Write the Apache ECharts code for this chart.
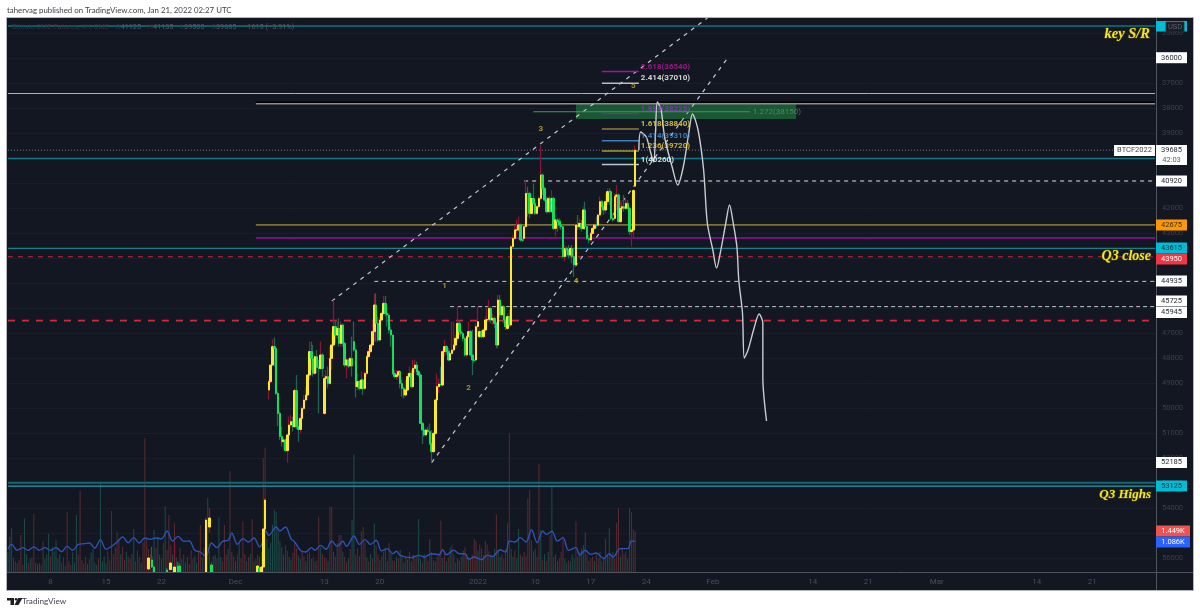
<!DOCTYPE html>
<html>
<head>
<meta charset="utf-8">
<title>BTCF2022 4H</title>
<script src="https://cdn.jsdelivr.net/npm/echarts@6/dist/echarts.min.js"></script>
<style>
  html, body { margin: 0; padding: 0; background: #fff; }
  #chart { width: 1200px; height: 613px; }
</style>
</head>
<body>
<div id="chart"></div>
<script>
// Time axis: one category per 4h session bar, labelled only where a date tick falls.
const slotCount = 621;
const tickSlots = [23, 53, 83, 123, 171, 201, 254, 285, 315, 345, 381, 435, 465, 502, 556, 586];
const tickLabels = ['8', '15', '22', 'Dec', '13', '20', '2022', '10', '17', '24', 'Feb', '14', '21', 'Mar', '14', '21'];
const priceTicks = [35000, 36000, 37000, 38000, 39000, 40000, 41000, 42000, 43000, 44000, 45000, 46000,
  47000, 48000, 49000, 50000, 51000, 52000, 53000, 54000, 55000, 56000];

// Early bars that reach the visible price range: [slot, open, close, low, high]
const earlyCandles = [
  [76, 56440, 56000, 55960, 56480], [78, 56080, 56360, 55560, 56400], [79, 56360, 56560, 56300, 56560],
  [86, 56480, 56560, 56400, 56560], [88, 56460, 56200, 56100, 56500], [90, 56560, 56360, 55320, 56560],
  [92, 56320, 56560, 56150, 56560], [93, 56320, 56560, 56200, 56560], [107, 56560, 54480, 54400, 56560],
  [109, 54760, 54400, 54000, 55000], [110, 56280, 56560, 56200, 56560], [135, 56560, 56320, 56280, 56560],
  [136, 56400, 56560, 56360, 56560], [137, 56560, 56360, 56300, 56560], [138, 56360, 54840, 54800, 56400],
  [139, 54840, 53680, 53600, 54880]
];

// Continuous run of bars up to the last session: [open, close, low, high]
const recentCandles = [
  [49280,48945,48880,49655],[48945,48280,48280,49015],[48280,47545,47255,48320],[47545,47615,47175,48345],
  [47615,49415,47545,49480],[49415,50215,49345,50720],[50215,51145,50145,51280],[51145,51345,50745,51545],
  [51345,51280,51145,51680],[51280,51705,51215,51745],[51705,51080,51015,52185],[51080,50680,50345,51415],
  [50680,50545,50280,50815],[50545,50745,50345,50945],[50745,49305,49215,50815],[49305,50745,48680,50855],
  [50745,50855,50480,51345],[50855,50415,50215,51015],[50415,50015,49945,50480],[50015,49680,49480,50080],
  [49680,49480,49145,49745],[49480,48680,48640,49680],[48680,47745,47345,48880],[47745,48015,47345,48480],
  [48015,48615,47480,48745],[48615,47945,47880,48680],[47945,48375,47680,48615],[48375,48415,48080,50215],
  [48415,47880,47345,48480],[47880,48415,47815,48745],[50215,48815,48680,50280],[48815,48745,48480,49280],
  [48745,49015,48345,49215],[49015,48015,47545,49080],[48015,47480,46945,48480],[47480,46745,45680,47545],
  [46745,47080,46480,47415],[47080,46815,46545,47215],[46815,47415,46415,47545],[47415,46680,46545,47545],
  [46680,47415,46615,47545],[47415,48280,47345,48375],[48280,48080,47975,48815],[48080,48320,48015,48415],
  [48320,48015,47945,48375],[48015,48320,47145,48745],[47345,47680,46545,47745],[47680,49145,47615,49575],
  [49145,48945,48615,49280],[48945,49215,48880,49305],[49215,48880,48545,49280],[48880,49215,48815,49480],
  [49215,48615,48545,49280],[48615,47945,47880,48745],[47945,47745,47615,48015],[47745,47480,47415,47815],
  [47480,46945,46480,47545],[46945,45880,45415,47345],[45880,46615,45415,47345],[46615,47280,46345,47345],
  [47280,46480,46345,47345],[46480,46215,46145,46545],[46215,45815,45520,46280],[45815,46215,45520,46345],
  [46215,46280,46145,46745],[46280,46880,46215,47015],[46880,47080,46745,47545],[47080,48615,47080,48680],
  [48615,48745,48480,48815],[48745,48680,48480,48880],[48680,48545,48480,48815],[48545,49015,48480,49215],
  [49015,49215,48880,49545],[49215,49480,49145,49615],[49480,49280,48880,49545],[49280,48745,48615,49345],
  [48745,48615,48345,48880],[48615,49145,48480,49215],[49145,48415,48080,49215],[48415,48280,48055,48615],
  [48280,48545,48145,48680],[48545,48680,48480,48745],[48680,50615,48615,50640],[50615,50880,50545,51440],
  [50880,51080,50745,51145],[51080,50880,50815,51145],[50880,50945,50745,51015],[50945,51415,50615,51480],
  [51415,51745,50880,52145],[51745,51015,50945,51815],[51015,49680,49615,51080],[49680,49145,48615,49745],
  [49145,49040,48815,49415],[49040,49080,48345,49145],[49080,47745,47680,49145],[47745,47545,47280,47945],
  [47545,47745,47480,47880],[47745,48080,47615,48105],[48080,47815,47680,48145],[47815,47680,46545,47880],
  [47680,47480,46545,47745],[47480,47215,47080,47615],[47215,46615,45920,47345],[46615,46945,46545,47080],
  [46945,47015,46745,47145],[47015,47215,46945,47345],[47215,47880,47145,47945],[47880,47145,47080,47975],
  [47145,46945,46545,47215],[46945,47880,46880,47945],[47880,48080,46880,48680],[48080,48105,48015,48215],
  [48080,46745,46615,48145],[46745,46545,45945,47145],[47145,46945,46815,47215],[46945,47145,46880,47215],
  [47145,46880,46815,47215],[46880,46480,46345,46945],[46480,46455,46015,46880],[46455,46015,45680,46545],
  [46015,46480,45945,46615],[46480,46415,46215,46680],[46415,46615,46345,46815],[46615,47480,46545,47615],
  [47480,45680,45480,47615],[45680,46280,45480,46415],[46280,45945,45815,46415],[45945,46480,45880,46615],
  [46480,46745,46345,46880],[46815,46345,46215,46880],[46345,46680,46080,46745],[46680,43545,43480,46745],
  [43545,43215,43080,43615],[43215,42880,42680,43280],[42880,42875,42480,43145],[42875,42680,42345,42945],
  [42680,43280,42615,43345],[43280,43285,43215,43345],[43215,42745,42680,43280],[42745,41415,40880,42775],
  [41415,41420,41145,42345],[41420,42215,41345,42415],[42215,41615,41415,42280],[41615,41815,41015,41880],
  [41815,42215,41680,42280],[42215,41945,41880,42280],[41945,41615,41545,42015],[41615,40680,39480,41680],
  [40680,41215,40615,41480],[41215,41680,41145,41745],[41680,42145,41545,42215],[42145,41615,41545,42215],
  [41615,42145,41545,42215],[42145,41615,41280,42215],[41615,42815,41545,42880],[42815,42480,42415,43145],
  [42480,42545,42415,42945],[42545,42680,42415,42815],[42680,42745,42480,42880],[42745,43945,42680,44015],
  [43945,43615,43480,44145],[43615,43680,43545,43945],[43680,43880,43480,44015],[43880,43615,43545,43945],
  [43615,43945,43480,44215],[43945,44280,43615,44745],[44280,42680,42615,44345],[42680,42745,42280,42880],
  [42745,42615,42415,42880],[42615,42815,42480,42945],[42815,42080,41945,42880],[42080,42745,41745,42880],
  [42745,43215,42680,43280],[43215,43280,43080,43415],[43280,43015,42945,43345],[43015,42815,42680,43080],
  [42815,42680,42615,42880],[42680,42685,42345,42815],[42685,42280,42215,42745],[42280,41745,41545,42345],
  [41745,41945,41680,42215],[41945,42080,41745,42280],[42080,41745,41415,42215],[41745,41345,41215,41880],
  [41345,41350,41215,41880],[41350,42415,41280,42480],[42415,42480,42215,42545],[42415,41545,41415,42505],
  [41545,41480,41080,42080],[41480,42545,41415,42585],[42545,42015,41680,42615],[42015,41945,41745,42080],
  [41945,42015,41480,42145],[42015,41815,41615,42080],[41815,42015,41680,42080],[42015,42945,41945,43080],
  [42945,42880,42815,43545],[42880,41300,41255,43215],[41125,39685,39500,41135]
];
const lastCandleSlot = 339;

// Volume per bar, with 'g'/'r' marking the direction of each bar
const volumes = [
  720,1240,1550,485,380,300,420,1310,260,1900, 640,320,460,520,2060,340,280,310,240,1080,
  480,620,1350,560,900,720,1130,480,640,340, 520,220,2120,380,260,690,340,2020,620,2886,
  420,310,540,280,450,680,820,340,260,480, 3206,380,560,310,740,420,2165,640,880,1430,
  1160,640,900,420,720,560,480,640,1526,380, 760,520,340,1050,4744,1180,820,640,560,1490,
  860,1240,620,480,1050,2340,780,2020,940,620, 1727,520,380,840,460,620,340,540,280,760,
  480,560,340,720,1668,520,860,1180,2638,740, 380,560,620,480,1940,520,380,1668,640,820,
  3585,720,560,380,620,1020,480,1786,640,380, 520,640,1880,380,460,620,540,720,4034,4424,
  1180,840,1040,1680,2200,2120,1520,1100,880,620, 940,760,540,420,680,1060,840,580,460,720,
  560,380,640,720,460,520,380,420,1960,880, 640,520,480,380,2320,2320,720,540,1020,1310,
  1310,720,540,360,480,820,1850,4176,620,840, 560,1450,1600,1060,520,380,640,480,1720,940,
  620,420,560,720,820,380,1040,640,420,380, 540,480,780,620,340,520,440,720,380,620,
  480,560,1880,460,340,640,520,380,1160,720, 420,360,540,640,1820,480,720,380,520,860,
  960,620,340,480,400,540,760,880,640,520, 480,620,1170,1100,760,980,840,620,1110,980,
  740,620,540,820,2040,720,540,640,480,820, 1730,4921,820,540,760,480,1530,620,540,720,
  580,2615,2910,1120,740,820,540,3833,1490,420, 640,380,720,1310,3028,540,620,380,480,720,
  1250,480,340,420,380,620,480,1790,560,720, 840,960,1410,620,380,480,540,380,620,480,
  720,380,540,1200,620,1550,640,720,480,1750, 2260,540,820,640,720,480,2260,2120,1510,1449
];
const volumeSides =
  'gggrrgrrrg' + 'grgrrrggrr' + 'gggrggggg' + 'r' + 'rgrrrgggrr' + 'rrrgrggggr' +
  'ggggrrrrrr' + 'rgrrgrrggr' + 'rrgrrrrrgg' + 'rggrrgrrrg' + 'rggrgrggrr' + 'rggrrgrrgr' +
  'rggrggrrrg' + 'rrrgrgrrrg' + 'rgrgrrgrrr' + 'gggggggggg' + 'rrggrrrggr' + 'rgrrgrgrrg' +
  'rrrgrrgrgr' + 'rgrrgrggrr' + 'rrrrgrgrgr' + 'rgrrggrgrr' + 'grgrgrgrgr' + 'rrggrgrrgr' +
  'rgrrrgrgrg' + 'rgrggrgrrg' + 'rrrrgrrrrr' + 'rgrgrggrrr' + 'rrggrggrgr' + 'rrrrggrrgr' +
  'grgrgrggrr' + 'rggrgggrgr' + 'rggrgrrgrr' + 'grgrggrgrr' + 'rgrrgrgrrr';

// Volume moving average sampled along the bars
const maSlots = [0,2,5,8,11,14,17,20,23,26,29,32,35,38,41,44,47,50,53,56,59,62,65,68,71,74,77,80,83,86,89,92,95,98,
  101,104,107,110,113,116,119,121,124,127,130,133,136,138,139,141,145,147,150,153,155,158,161,164,166,169,172,175,
  178,181,183,187,190,193,196,199,202,205,208,210,212,218,222,225,229,233,235,237,241,244,247,249,252,256,259,262,
  266,269,271,274,277,280,283,286,289,291,294,297,300,303,307,309,312,315,318,322,325,327,331,335,337,339];
const maValues = [805,980,770,865,770,890,770,865,770,865,720,910,770,980,1005,1030,850,1150,805,910,1065,1240,1040,
  1220,1030,1205,1160,1205,1180,1455,1100,1265,1090,1100,770,710,555,1030,865,1090,1125,1385,980,1180,1065,1205,890,
  1125,1500,1300,1600,1455,1600,1180,1065,770,710,865,770,945,805,1100,910,1090,910,1280,980,1150,980,1125,745,830,
  650,735,590,510,590,532,650,615,792,615,770,650,650,450,532,437,590,555,792,710,1100,1065,1220,1065,1500,1040,1455,
  1335,1445,1100,1220,770,865,600,770,627,675,475,650,532,830,830,1100,1086];

// Projected price path
const projectionSlots = [341,342,345,347,349,350,351,353,355,359,362,365,368,370,373,376,378,381,383,385,388,390,392,394,395,397,398,400,403,406,408,408,410];
const projectionPrices = [39680,38960,39160,39680,40160,38990,37760,38080,39200,40360,41080,40360,38990,38240,38880,40480,42600,43680,44400,43800,42600,41880,42600,43560,44880,46200,48000,47680,46880,46240,46600,48760,50520];

// Horizontal levels: price, first slot
const topSupportPrice = 34720, upperGreyPrice = 37420, lastPrice = 39685, midTealPrice = 40020;
const dashLevelA = 40920, oliveLevel = 42675, purpleLevel = 43200, q3TealLevel = 43615, q3ClosePrice = 43950;
const dashLevelB = 44935, dashLevelC = 45945, thickRedLevel = 46504, q3HighThick = 52990, q3HighPrice = 53125;
const drawnLevelGrey = 37828;

// Channel lines: [slot, price]
const channelUpper = [[175, 45725], [378, 34400]];
const channelLower = [[229, 52185], [389, 36000]];

// Fibonacci extension levels
const fibRatios = ['2.618', '2.414', '1.884', '1.618', '1.414', '1.236', '1'];
const fibPrices = [36540, 37010, 38225, 38840, 39310, 39720, 40260];
const fibColors = ['#a8109a', '#b8bcc4', '#7d2aa8', '#8a8034', '#3d7fb8', '#a89a30', '#c0c4cc'];
const fibTextColors = ['#c0189f', '#ffffff', '#8a3bb8', '#f5e050', '#4a90d0', '#f5d92b', '#ffffff'];
const fibSpan = [321, 341];
const targetPrice = 38150;
const targetSpan = [284, 401];
const targetBox = { slots: [307, 426], prices: [37812, 38440] };

// Wave count labels
const waveNames = ['1', '2', '3', '4', '5'];
const waveSlots = [236, 249, 288, 307, 338];
const wavePrices = [45120, 49200, 38840, 44920, 37120];

const categories = new Array(slotCount).fill('');
tickSlots.forEach((s, i) => { categories[s] = tickLabels[i]; });

const recentStart = lastCandleSlot - recentCandles.length + 1;
const candleRows = earlyCandles.concat(recentCandles.map((r, i) => [recentStart + i].concat(r)));
const bodyRows = candleRows.map(r => [r[0], r[1], r[2], Math.min(r[1], r[2]), Math.max(r[1], r[2])]);

const levelLine = (name, price, firstSlot, width, color, type, extra) => ({
  name, type: 'line', symbol: 'none', silent: true, z: 5, animation: false,
  data: [[firstSlot, price], [slotCount - 1, price]],
  lineStyle: Object.assign({ width, color, type }, extra || {})
});
const trendLine = (name, points) => ({
  name, type: 'line', symbol: 'none', silent: true, z: 6, data: points,
  lineStyle: { width: 1.2, color: '#c6c8ce', type: [4, 5] }
});

const seriesList = [
  {
    name: 'Volume', type: 'bar', yAxisIndex: 1, barWidth: 1, silent: true, z: 2,
    data: volumes.map((v, i) => ({
      value: v,
      itemStyle: { color: volumeSides[i] === 'g' ? '#1d4c49' : '#5a2b30' }
    }))
  },
  {
    name: 'Volume MA', type: 'line', yAxisIndex: 1, symbol: 'none', silent: true, z: 3, smooth: 0.35,
    data: maSlots.map((s, i) => [s, maValues[i]]),
    lineStyle: { width: 1.4, color: '#2c52b4' }
  },
  levelLine('Key level', topSupportPrice, 0, 1.5, '#0b7583', 'solid'),
  levelLine('Grey level', upperGreyPrice, 0, 1, '#a3b6c0', 'solid'),
  levelLine('Drawn grey', drawnLevelGrey, 134, 1.6, '#8b8d92', 'solid', { shadowColor: '#000', shadowOffsetY: -1.5, shadowBlur: 0 }),
  levelLine('Last price', lastPrice, 0, 1, '#767a84', [1, 2]),
  levelLine('Teal level', midTealPrice, 0, 1.3, '#0f7888', 'solid'),
  levelLine('Dashed A', dashLevelA, 279, 1.3, '#b4b8c0', [4, 4]),
  levelLine('Olive level', oliveLevel, 134, 1.8, '#7b7136', 'solid'),
  levelLine('Purple level', purpleLevel, 134, 1.8, '#74117f', 'solid'),
  levelLine('Teal Q3', q3TealLevel, 0, 1.1, '#177f8e', 'solid'),
  levelLine('Q3 close', q3ClosePrice, 0, 1, '#c4283c', [5, 5]),
  levelLine('Dashed B', dashLevelB, 198, 1, '#c4c6cc', [4, 4]),
  levelLine('Dashed C', dashLevelC, 239, 1, '#c4c6cc', [4, 3]),
  levelLine('Thick red', thickRedLevel, 0, 1.8, '#d4283c', [7, 7]),
  levelLine('Q3 high band', q3HighThick, 0, 2, '#0d6a76', 'solid'),
  levelLine('Q3 high', q3HighPrice, 0, 1.2, '#1aa3b4', 'solid'),
  {
    name: 'Wicks', type: 'candlestick', barWidth: 1, silent: true, z: 7,
    encode: { x: 0, y: [1, 2, 3, 4] }, data: candleRows,
    itemStyle: { color: '#1f6553', color0: '#8c1236', borderColor: '#1f6553', borderColor0: '#8c1236', borderWidth: 1.3 }
  },
  {
    name: 'Bodies', type: 'candlestick', barWidth: 2, silent: true, z: 8,
    encode: { x: 0, y: [1, 2, 3, 4] }, data: bodyRows,
    itemStyle: { color: '#12e05c', color0: '#fbe92f', borderColor: '#12e05c', borderColor0: '#fbe92f', borderWidth: 1 }
  },
  trendLine('Channel upper', channelUpper),
  trendLine('Channel lower', channelLower),
  {
    name: 'Projection', type: 'line', symbol: 'none', silent: true, z: 9, smooth: 0.3,
    data: projectionSlots.map((s, i) => [s, projectionPrices[i]]),
    lineStyle: { width: 1.4, color: '#c9cbd1' }
  },
  {
    name: 'Target', type: 'line', symbol: 'none', silent: true, z: 6,
    data: [[targetSpan[0], targetPrice], [targetSpan[1], targetPrice]],
    lineStyle: { width: 1, color: '#3f9a56' },
    markArea: {
      silent: true, z: 4,
      itemStyle: { color: 'rgba(30,118,62,0.68)' },
      data: [[{ xAxis: targetBox.slots[0], yAxis: targetBox.prices[0] }, { xAxis: targetBox.slots[1], yAxis: targetBox.prices[1] }]]
    }
  },
  {
    name: 'Target label', type: 'scatter', symbolSize: 0, silent: true, z: 10,
    data: [{
      value: [targetSpan[1], targetPrice],
      label: { show: true, position: 'right', distance: 3, formatter: '1.272(' + targetPrice + ')', color: '#46a160', fontSize: 8, fontFamily: 'Roboto' }
    }]
  },
  ...fibRatios.map((ratio, i) => ({
    name: 'Fib ' + ratio, type: 'line', symbol: 'none', silent: true, z: 6,
    data: [[fibSpan[0], fibPrices[i]], [fibSpan[1], fibPrices[i]]],
    lineStyle: { width: 1.4, color: fibColors[i] }
  })),
  {
    name: 'Fib labels', type: 'scatter', symbolSize: 0, silent: true, z: 10,
    data: fibRatios.map((ratio, i) => ({
      value: [fibSpan[1], fibPrices[i]],
      label: {
        show: true, position: 'right', distance: 2, offset: [0, -5],
        formatter: ratio + '(' + fibPrices[i] + ')',
        color: fibTextColors[i], fontSize: 8, fontWeight: 'bold', fontFamily: 'Roboto'
      }
    }))
  },
  {
    name: 'Wave count', type: 'scatter', symbolSize: 0, silent: true, z: 10,
    data: waveNames.map((n, i) => ({
      value: [waveSlots[i], wavePrices[i]],
      label: { show: true, position: 'inside', formatter: n, color: '#cdb22c', fontSize: 8, fontWeight: 'bold', fontFamily: 'Roboto' }
    }))
  }
];

// Price-scale tags sit in the margin beside the plot
const tagFont = '7.5px Roboto, sans-serif';
const tag = (text, cy, bg, fg, w) => [
  { type: 'rect', z: 50, shape: { x: 1156, y: cy - 5.5, width: w || 31, height: 11 }, style: { fill: bg } },
  { type: 'text', z: 51, style: { text, x: 1156 + (w || 31) / 2, y: cy, fill: fg, font: tagFont, align: 'center', verticalAlign: 'middle' } }
];
const note = (text, x, y, size) => ({
  type: 'text', z: 40,
  style: { text, x, y, fill: '#f2e52c', font: 'italic bold ' + size + 'px "Liberation Serif", serif', align: 'right', verticalAlign: 'middle', stroke: '#3a3510', lineWidth: 1.5 }
});

const graphics = [
  { type: 'rect', z: -10, shape: { x: 6.5, y: 17.5, width: 1187, height: 573 }, style: { fill: '#131722', stroke: '#b4b7bc', lineWidth: 1 } },
  { type: 'line', z: 30, shape: { x1: 1156.5, y1: 18, x2: 1156.5, y2: 590 }, style: { stroke: '#4f535c', lineWidth: 1 } },
  { type: 'line', z: 30, shape: { x1: 7, y1: 572.5, x2: 1193, y2: 572.5 }, style: { stroke: '#4f535c', lineWidth: 1 } },
  { type: 'text', style: { text: 'tahervag published on TradingView.com, Jan 21, 2022 02:27 UTC', x: 7, y: 10, fill: '#3c3f45', font: '7.85px Lato, sans-serif', verticalAlign: 'middle' } },
  {
    type: 'text', z: 20,
    style: {
      text: '{a|Bitcoin CME Futures, 4H, CME}  {a|O}{b|41125}  {a|H}{b|41135}  {a|L}{b|39500}  {a|C}{b|39685}  {b|−1615 (−3.91%)}',
      x: 12, y: 27, verticalAlign: 'middle',
      rich: {
        a: { fill: '#30343f', font: '7.3px Roboto, sans-serif' },
        b: { fill: '#555964', font: '7.3px Roboto, sans-serif' }
      }
    }
  },
  // Brand mark and wordmark under the frame
  { type: 'polygon', shape: { points: [[7, 598], [14, 598], [14, 605], [10.5, 605], [10.5, 600.5], [7, 600.5]] }, style: { fill: '#1d1f24' } },
  { type: 'circle', shape: { cx: 16, cy: 599.3, r: 1.3 }, style: { fill: '#1d1f24' } },
  { type: 'polygon', shape: { points: [[18, 598], [22.5, 598], [18.5, 605], [14.5, 605]] }, style: { fill: '#1d1f24' } },
  { type: 'text', style: { text: 'TradingView', x: 22, y: 601.5, fill: '#444750', font: '8.2px Lato, sans-serif', verticalAlign: 'middle' } },
  note('key S/R', 1150, 34, 14.5),
  note('Q3 close', 1151, 256.5, 14),
  note('Q3 Highs', 1151, 494.5, 13),
  // Countdown tag and symbol tag beside the last price
  { type: 'rect', z: 50, shape: { x: 1156, y: 145, width: 31, height: 20 }, style: { fill: '#ffffff' } },
  { type: 'text', z: 51, style: { text: '39685', x: 1171.5, y: 150.5, fill: '#2a2e39', font: tagFont, align: 'center', verticalAlign: 'middle' } },
  { type: 'text', z: 51, style: { text: '42:03', x: 1171.5, y: 160, fill: '#5d606b', font: tagFont, align: 'center', verticalAlign: 'middle' } },
  { type: 'rect', z: 50, shape: { x: 1114, y: 145, width: 41, height: 11 }, style: { fill: '#ffffff' } },
  { type: 'text', z: 51, style: { text: 'BTCF2022', x: 1134.5, y: 150.5, fill: '#43464f', font: tagFont, align: 'center', verticalAlign: 'middle' } },
  // Currency badge over the top tag
  { type: 'rect', z: 50, shape: { x: 1156, y: 21, width: 31, height: 10.5 }, style: { fill: '#00bcd4' } },
  { type: 'rect', z: 51, shape: { x: 1166, y: 22, width: 18, height: 10 }, style: { fill: '#1a1e28', stroke: '#2f333e', lineWidth: 0.8 } },
  { type: 'text', z: 52, style: { text: 'USD', x: 1175, y: 27, fill: '#5b5f6a', font: tagFont, align: 'center', verticalAlign: 'middle' } },
  ...tag('36000', 57.7, '#ffffff', '#2a2e39'),
  ...tag('40920', 181, '#ffffff', '#2a2e39'),
  ...tag('42675', 225, '#ff9800', '#3a2a10'),
  ...tag('43615', 248, '#00bcd4', '#10323a'),
  ...tag('43950', 259, '#f23645', '#ffffff'),
  ...tag('44935', 281, '#ffffff', '#2a2e39'),
  ...tag('45725', 301, '#ffffff', '#2a2e39'),
  ...tag('45945', 312.5, '#ffffff', '#2a2e39'),
  ...tag('52185', 462.5, '#ffffff', '#2a2e39'),
  ...tag('53125', 486, '#00bcd4', '#10323a'),
  ...tag('1.449K', 531, '#ef5350', '#ffffff', 34),
  ...tag('1.086K', 542, '#2962ff', '#ffffff', 34)
];

const chart = echarts.init(document.getElementById('chart'), null, { renderer: 'canvas' });
chart.setOption({
  animation: false,
  backgroundColor: '#ffffff',
  tooltip: { show: false },
  grid: { left: 7, right: 44, top: 18, bottom: 41 },
  xAxis: {
    type: 'category', data: categories, boundaryGap: true,
    axisLine: { show: false }, axisTick: { show: false }, splitLine: { show: false },
    axisLabel: { interval: 0, color: '#4a4e59', fontSize: 8, fontFamily: 'Roboto', margin: 6, hideOverlap: false }
  },
  yAxis: [
    {
      type: 'value', inverse: true, min: 34400, max: 56560, position: 'right', scale: true,
      axisLine: { show: false },
      axisTick: { show: false, customValues: priceTicks },
      axisLabel: { customValues: priceTicks, color: '#3c404b', fontSize: 7.5, fontFamily: 'Roboto', margin: 6, formatter: v => String(v) },
      splitLine: { show: true, lineStyle: { color: '#1a1e2a', width: 1 } }
    },
    { type: 'value', min: 0, max: 19667, show: false, splitLine: { show: false } }
  ],
  series: seriesList,
  graphic: graphics
});
</script>
</body>
</html>
